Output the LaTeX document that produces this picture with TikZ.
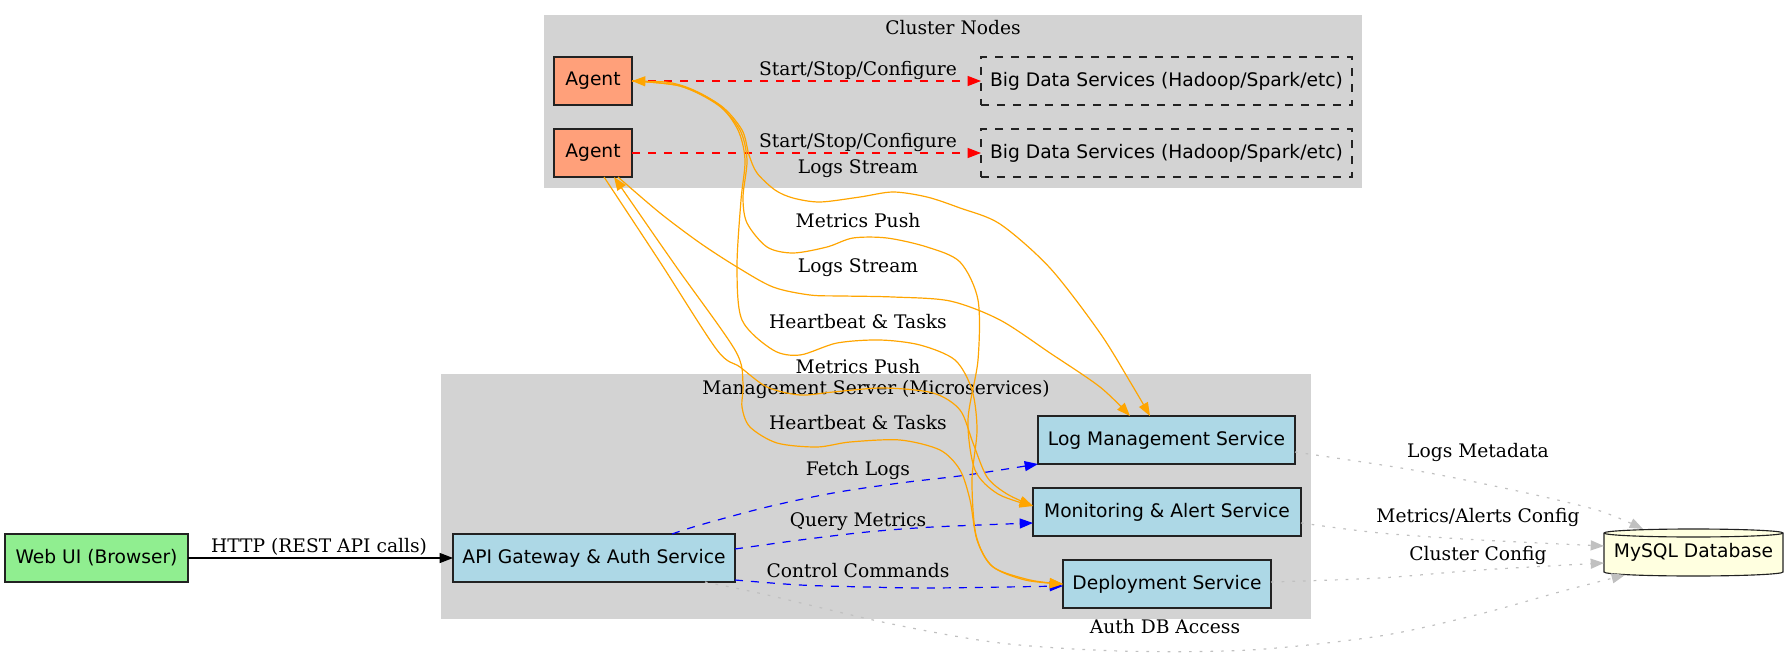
\documentclass[tikz,border=0pt]{standalone}
\usepackage{fontspec}
\setmainfont{DejaVu Serif}
\newfontfamily\nodefont{DejaVu Sans}
\usetikzlibrary{arrows.meta,calc}
\definecolor{lsalmon}{HTML}{FFA07A}
\definecolor{lgreen}{HTML}{90EE90}
\definecolor{lblue}{HTML}{ADD8E6}
\definecolor{lyellow}{HTML}{FFFFE0}
\definecolor{lgrey}{HTML}{D3D3D3}
\definecolor{gvorange}{HTML}{FFA500}
\definecolor{gvgray}{HTML}{C0C0C0}
\definecolor{border}{HTML}{222222}
\begin{document}
\begin{tikzpicture}[x=0.75pt,y=-0.75pt,
  >={Triangle[length=10pt,width=7.5pt]},
  box/.style={draw=border, line width=0.85pt, font=\nodefont\fontsize{14pt}{16pt}\selectfont,
    minimum height=36pt, inner sep=2pt, outer sep=0pt},
  agentbox/.style={box, fill=lsalmon, minimum width=58.5pt},
  bigbox/.style={box, dash pattern=on 6pt off 6pt, minimum width=278.25pt},
  svcbox/.style={box, fill=lblue},
  dbnode/.style={font=\nodefont\fontsize{14pt}{16pt}\selectfont, inner sep=0pt, outer sep=0pt,
    minimum width=134.25pt, minimum height=35.25pt},
  lbl/.style={font=\fontsize{14pt}{16pt}\selectfont, inner sep=0pt, text height=10.5pt, text depth=3pt},
  oe/.style={draw=gvorange, line width=0.9pt, ->},
  oeb/.style={draw=gvorange, line width=0.9pt, <->},
  be/.style={draw=blue, line width=0.9pt, dash pattern=on 6pt off 6pt, ->},
  rde/.style={draw=red, line width=0.9pt, dash pattern=on 6pt off 6pt, ->},
  ge/.style={draw=gvgray, line width=0.9pt, dash pattern=on 2pt off 6pt, ->},
  sm/.style={smooth, tension=0.5}
]
\useasboundingbox (0,0) rectangle (1788,660);
% clusters
\fill[lgrey] (544,15) rectangle (1362,188);
\fill[lgrey] (441,374) rectangle (1311,619);
\node[lbl] (cn) at (953,30) {Cluster Nodes};
\node[lbl] (ms) at (876,389) {Management Server (Microservices)};

% nodes
\node[agentbox] (a1) at (593,81) {Agent};
\node[agentbox] (a2) at (593,153) {Agent};
\node[bigbox] (bd1) at (1166.5,81) {Big Data Services (Hadoop/Spark/etc)};
\node[bigbox] (bd2) at (1166.5,153) {Big Data Services (Hadoop/Spark/etc)};
\node[box, fill=lgreen, minimum width=137.25pt] (web) at (96.5,558) {Web UI (Browser)};
\node[svcbox, minimum width=211.5pt] (api) at (594,558) {API Gateway \& Auth Service};
\node[svcbox, minimum width=192.75pt] (lm) at (1166.5,440) {Log Management Service};
\node[svcbox, minimum width=201pt] (mon) at (1167,512) {Monitoring \& Alert Service};
\node[svcbox, minimum width=156pt] (dep) at (1167,584) {Deployment Service};
% cylinder
\filldraw[fill=lyellow, draw=border, line width=0.85pt] (1604,533) -- (1604,572)
  arc[start angle=180, end angle=0, x radius=89.5, y radius=4] -- (1783,533)
  arc[start angle=0, end angle=-180, x radius=89.5, y radius=4] -- cycle;
\draw[draw=border, line width=0.85pt] (1604,533) arc[start angle=180, end angle=0, x radius=89.5, y radius=4];
\node[dbnode] (db) at (1693.5,552.5) {MySQL Database};

% black edge
\draw[line width=0.9pt, ->] (web) -- (api);
\node[lbl] (lhttp) at (319,547) {HTTP (REST API calls)};

% red dashed
\draw[rde] (a1) -- (bd1);
\draw[rde] (a2) -- (bd2);
\node[lbl] (lss1) at (858,70) {Start/Stop/Configure};
\node[lbl] (lss2) at (858,142) {Start/Stop/Configure};

% blue dashed
\draw[be] plot[sm] coordinates {($(api.north)+(78,0)$) (700,525) (767,507) (833,493) (900,483) (967,475) (lm.south west)};
\draw[be] plot[sm] coordinates {($(api.east)+(0,-9)$) (800,540) (867,532) (933,527) ($(mon.west)+(0,11)$)};
\draw[be] plot[sm] coordinates {($(api.east)+(0,22)$) (800,585) (867,587) (933,588) ($(dep.west)+(0,2)$)};
\node[lbl] (lfl) at (858,470) {Fetch Logs};
\node[lbl] (lqm) at (858,521) {Query Metrics};
\node[lbl] (lcc) at (858,572) {Control Commands};

% gray dotted
\draw[ge] plot[sm] coordinates {($(lm.east)+(0,12)$) (1413,470) (1513,490) (1597,510) ($(db.north west)+(39,0)$)};
\draw[ge] plot[sm] coordinates {($(mon.east)+(0,11)$) (1380,533) (1480,540) ($(db.west)+(0,-6.5)$)};
\draw[ge] plot[sm] coordinates {($(dep.east)+(0,-2)$) (1380,578) (1480,570) ($(db.west)+(0,10.5)$)};
\draw[ge] plot[sm] coordinates {($(api.south)+(111,0)$) (763,594) (887,623) (1000,643) (1120,651) (1250,650) (1380,636) (1480,614) (1563,591) ($(db.south west)+(21,-1)$)};
\node[lbl] (llm) at (1478,452) {Logs Metadata};
\node[lbl] (lma) at (1478,517) {Metrics/Alerts Config};
\node[lbl] (lcf) at (1478,555) {Cluster Config};
\node[lbl] (lad) at (1165,628) {Auth DB Access};

% orange edges
\draw[oe] plot[sm] coordinates {(a1.east) (680,86) (720,105) (742,130) (749,155) (757,173) (775,190) (793,198) (820,202) (860,197) (893,192) (927,197) (960,208) (1000,224) (1050,268) (1100,333) (1132,385) ($(lm.north)+(-16.5,0)$)};
\draw[oe] plot[sm] coordinates {(a1.east) (680,86) (718,105) (740,130) (747,160) (743,197) (747,223) (767,247) (793,253) (827,247) (853,238) (887,238) (927,247) (960,262) (978,300) (978,360) (968,420) (975,470) (998,494) ($(mon.west)+(0,-6)$)};
\draw[oeb] plot[sm] coordinates {(a1.east) (680,85) (718,104) (738,130) (745,160) (741,200) (737,267) (742,320) (773,350) (800,355) (837,343) (880,340) (920,345) (955,360) (972,390) (977,430) (972,480) (976,535) (992,566) (1025,580) (dep.west)};
\draw[oe] plot[sm] coordinates {($(a2.south)+(25,0)$) (660,213) (700,243) (737,267) (773,287) (810,295) (843,296) (893,297) (950,301) (1000,320) (1050,353) (1100,387) ($(lm.north)+(-36.5,0)$)};
\draw[oe] plot[sm] coordinates {($(a2.south)+(11,0)$) (660,262) (717,350) (740,367) (767,387) (800,395) (833,392) (883,388) (933,393) (960,410) (973,443) (987,477) (1007,494) ($(mon.west)+(0,-6)$)};
\draw[oeb] plot[sm] coordinates {($(a2.south)+(21,0)$) (675,265) (735,350) (743,383) (742,407) (750,427) (777,443) (817,447) (850,442) (900,440) (940,450) (960,470) (970,500) (977,540) (993,567) (1030,580) (dep.west)};
\node[lbl] (lls1) at (858,168) {Logs Stream};
\node[lbl] (lmp1) at (858,222) {Metrics Push};
\node[lbl] (lls2) at (858,267) {Logs Stream};
\node[lbl] (lht1) at (858,323) {Heartbeat \& Tasks};
\node[lbl] (lmp2) at (858,368) {Metrics Push};
\node[lbl] (lht2) at (858,424) {Heartbeat \& Tasks};
\end{tikzpicture}
\end{document}
